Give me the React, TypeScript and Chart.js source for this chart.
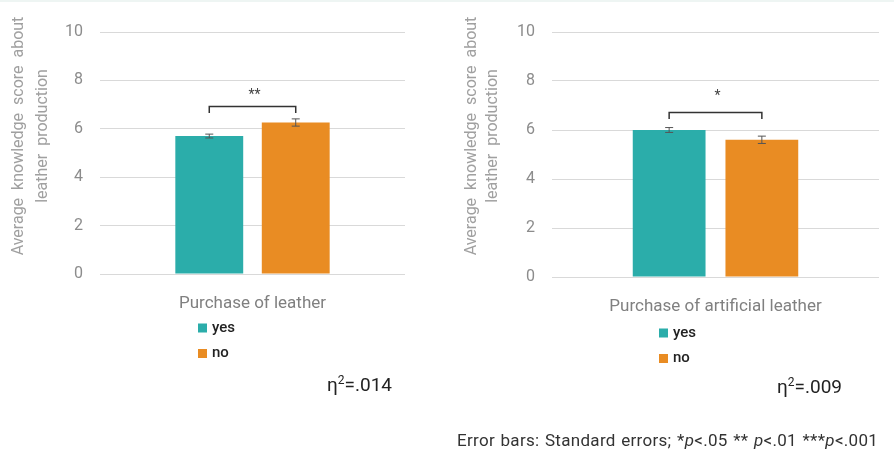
import React, { useEffect, useRef } from "react";
import { Chart, registerables } from "chart.js";

Chart.register(...registerables);

// ---------- data ----------
const seriesLabels = ["yes", "no"];
const seriesColors = ["#2BADAA", "#E98C23"];
const leatherCategory = ["Purchase of leather"];
const leatherMeans = [5.7, 6.26];
const leatherSE = [0.08, 0.15];
const artificialCategory = ["Purchase of artificial leather"];
const artificialMeans = [6.0, 5.6];
const artificialSE = [0.1, 0.15];
const significance = ["**", "*"];
const bracketLevels = [6.95, 6.75];
const starLevels = [7.45, 7.45];
const etaSquared = [".014", ".009"];
const yTitleLines = ["Average knowledge score about", "leather production"];
const yMin = 0;
const yMax = 10;
const yStep = 2;
const footnote = "Error bars: Standard errors;";

const FONT = "Roboto, 'Noto Sans', sans-serif";

type PanelProps = {
  category: string[];
  means: number[];
  se: number[];
  sig: string;
  bracketLevel: number;
  starLevel: number;
  left: number;
  right: number;
  bottom: number;
  titleX1: number;
  titleX2: number;
  titleCY: number;
  legendDX: number;
  legendDY: number;
};

function Panel(p: PanelProps) {
  const ref = useRef<HTMLCanvasElement | null>(null);
  useEffect(() => {
    if (!ref.current) return;
    const W = 447;
    const H = 450;
    const xAxisH = 40;
    const overlay = {
      id: "overlay",
      afterDatasetsDraw(chart: any) {
        const ctx = chart.ctx;
        const ys = chart.scales.y;
        const xs: number[] = [];
        ctx.save();
        chart.data.datasets.forEach((ds: any, i: number) => {
          const meta = chart.getDatasetMeta(i);
          const bar = meta.data[0];
          xs.push(bar.x);
          const v = ds.data[0];
          const e = ds.errors[0];
          const yt = ys.getPixelForValue(v + e);
          const yb = ys.getPixelForValue(v - e);
          ctx.strokeStyle = "#555";
          ctx.lineWidth = 1;
          ctx.beginPath();
          ctx.moveTo(bar.x, yt);
          ctx.lineTo(bar.x, yb);
          ctx.moveTo(bar.x - 4, yt);
          ctx.lineTo(bar.x + 4, yt);
          ctx.moveTo(bar.x - 4, yb);
          ctx.lineTo(bar.x + 4, yb);
          ctx.stroke();
        });
        // significance bracket
        const by = Math.round(ys.getPixelForValue(p.bracketLevel)) + 0.5;
        ctx.strokeStyle = "#333";
        ctx.lineWidth = 1.5;
        ctx.beginPath();
        ctx.moveTo(xs[0], by + 6.5);
        ctx.lineTo(xs[0], by);
        ctx.lineTo(xs[1], by);
        ctx.lineTo(xs[1], by + 6.5);
        ctx.stroke();
        ctx.fillStyle = "#444";
        ctx.font = `14px ${FONT}`;
        ctx.textAlign = "center";
        ctx.textBaseline = "middle";
        ctx.fillText(p.sig, (xs[0] + xs[1]) / 2 + 2, ys.getPixelForValue(p.starLevel) + 2);
        ctx.restore();
      },
      afterDraw(chart: any) {
        const ctx = chart.ctx;
        const area = chart.chartArea;
        ctx.save();
        // y title
        ctx.fillStyle = "#a0a0a0";
        ctx.font = `16px ${FONT}`;
        (ctx as any).wordSpacing = "4px";
        ctx.textAlign = "center";
        ctx.textBaseline = "middle";
        const tx = [p.titleX1, p.titleX2];
        yTitleLines.forEach((t, i) => {
          ctx.save();
          ctx.translate(tx[i], p.titleCY);
          ctx.rotate(-Math.PI / 2);
          ctx.fillText(t, 0, 0);
          ctx.restore();
        });
        (ctx as any).wordSpacing = "0px";
        // legend
        const cx = (area.left + area.right) / 2 + p.legendDX;
        chart.data.datasets.forEach((ds: any, i: number) => {
          const y = area.bottom + p.legendDY + i * 25.5;
          ctx.fillStyle = ds.backgroundColor;
          ctx.fillRect(cx, y - 4.5, 9, 9);
          ctx.fillStyle = "#222";
          ctx.font = `500 15px ${FONT}`;
          ctx.textAlign = "left";
          ctx.textBaseline = "middle";
          ctx.fillText(ds.label, cx + 14, y);
        });
        ctx.restore();
      },
    };
    const chart = new Chart(ref.current, {
      type: "bar",
      data: {
        labels: p.category,
        datasets: seriesLabels.map((l, i) => ({
          label: l,
          data: [p.means[i]],
          errors: [p.se[i]],
          backgroundColor: seriesColors[i],
          borderWidth: 0,
          categoryPercentage: 0.567,
          barPercentage: 0.785,
        })) as any,
      },
      options: {
        responsive: false,
        animation: false,
        layout: {
          padding: { left: 0, right: W - p.right, top: 32, bottom: H - p.bottom - xAxisH },
        },
        plugins: { legend: { display: false }, tooltip: { enabled: false } },
        scales: {
          x: {
            grid: { display: false },
            border: { display: false },
            ticks: { color: "#808080", font: { family: FONT, size: 17 }, padding: 12 },
            afterFit: (s: any) => {
              s.height = xAxisH;
            },
          },
          y: {
            min: yMin,
            max: yMax,
            ticks: {
              stepSize: yStep,
              color: "#8c8c8c",
              font: { family: FONT, size: 16 },
              padding: 17,
            },
            grid: { color: "#d9d9d9", lineWidth: 1, drawTicks: false },
            border: { display: false },
            afterFit: (s: any) => {
              s.width = p.left;
            },
          },
        },
      },
      plugins: [overlay],
    });
    return () => chart.destroy();
  }, []);
  return <canvas ref={ref} width={447} height={450} style={{ display: "block", width: 447, height: 450 }} />;
}

function Eta({ value, x, y }: { value: string; x: number; y: number }) {
  return (
    <div
      style={{
        position: "absolute",
        left: x,
        top: y,
        fontFamily: FONT,
        fontSize: 19,
        color: "#222",
        lineHeight: "20px",
        whiteSpace: "nowrap",
      }}
    >
      η<sup style={{ fontSize: 12, verticalAlign: 0, position: "relative", top: -7 }}>2</sup>={value}
    </div>
  );
}

export default function App() {
  return (
    <div style={{ position: "absolute", left: 0, top: 0, width: 894, height: 450, background: "#fff", overflow: "hidden" }}>
      <div style={{ position: "absolute", left: 0, top: 0, width: 894, height: 2, background: "#eef5f3" }} />
      <div style={{ position: "absolute", left: 0, top: 0 }}>
        <Panel
          category={leatherCategory}
          means={leatherMeans}
          se={leatherSE}
          sig={significance[0]}
          bracketLevel={bracketLevels[0]}
          starLevel={starLevels[0]}
          left={100}
          right={405}
          bottom={274}
          titleX1={19}
          titleX2={43}
          titleCY={136}
          legendDX={-54.5}
          legendDY={54}
        />
      </div>
      <div style={{ position: "absolute", left: 447, top: 0 }}>
        <Panel
          category={artificialCategory}
          means={artificialMeans}
          se={artificialSE}
          sig={significance[1]}
          bracketLevel={bracketLevels[1]}
          starLevel={starLevels[1]}
          left={105}
          right={432}
          bottom={277}
          titleX1={25}
          titleX2={46}
          titleCY={136}
          legendDX={-56.5}
          legendDY={56}
        />
      </div>
      <Eta value={etaSquared[0]} x={327} y={375} />
      <Eta value={etaSquared[1]} x={777} y={377} />
      <div
        style={{
          position: "absolute",
          left: 457,
          top: 430,
          fontFamily: FONT,
          fontSize: 17,
          letterSpacing: "0.3px",
          wordSpacing: "1px",
          color: "#333",
          lineHeight: "20px",
          whiteSpace: "nowrap",
        }}
      >
        {footnote} *<i>p</i>&lt;.05 ** <i>p</i>&lt;.01 ***<i>p</i>&lt;.001
      </div>
    </div>
  );
}
